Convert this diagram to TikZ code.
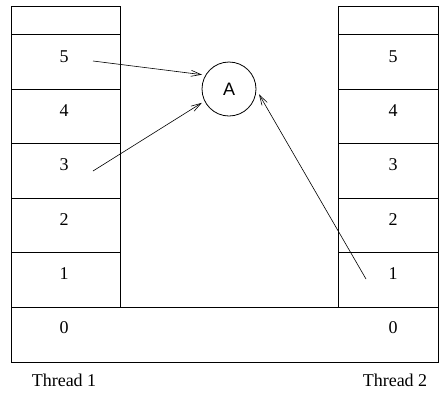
\documentclass[tikz,border=0pt]{standalone}
\usepackage{fontspec}
\setmainfont{Liberation Serif}
\setsansfont{Liberation Sans}
\usetikzlibrary{arrows.meta}
\begin{document}
\begin{tikzpicture}[x=1pt,y=-1pt,line width=0.8pt,
    lbl/.style={font=\fontsize{18}{20}\selectfont,inner sep=0pt},
    ptr/.style={line width=0.6pt,-{Straight Barb[length=10pt,width=6pt]}}]
    \useasboundingbox (0,0) rectangle (439,392);
    % thread 1 stack
    \draw (11,6) rectangle (120,307);
    \foreach \y in {34,89,143,198,252} \draw (11,\y) -- (120,\y);
    % thread 2 stack
    \draw (338,6) rectangle (438.6,307);
    \foreach \y in {34,89,143,198,252} \draw (338,\y) -- (438.6,\y);
    % shared bottom frame
    \draw (11,307) rectangle (438.6,362);
    \foreach \k in {0,...,5} {
      \node[lbl] (l\k) at (64,{328-54.3*\k}) {\k};
      \node[lbl] (r\k) at (393,{328-54.3*\k}) {\k};
    }
    \node[lbl] (t1) at (64,380) {Thread 1};
    \node[lbl] (t2) at (395,380) {Thread 2};
    \node[draw,circle,minimum size=54pt,inner sep=0pt,outer sep=3.5pt,
      font=\sffamily\fontsize{18}{20}\selectfont] (A) at (229,89) {A};
    \coordinate (p5) at (93,61);
    \coordinate (p3) at (93,171);
    \coordinate (q1) at (366,279);
    \draw[ptr] (p5) -- (A.152);
    \draw[ptr] (p3) -- (A.207);
    \draw[ptr] (q1) -- (A.350);
\end{tikzpicture}
\end{document}
